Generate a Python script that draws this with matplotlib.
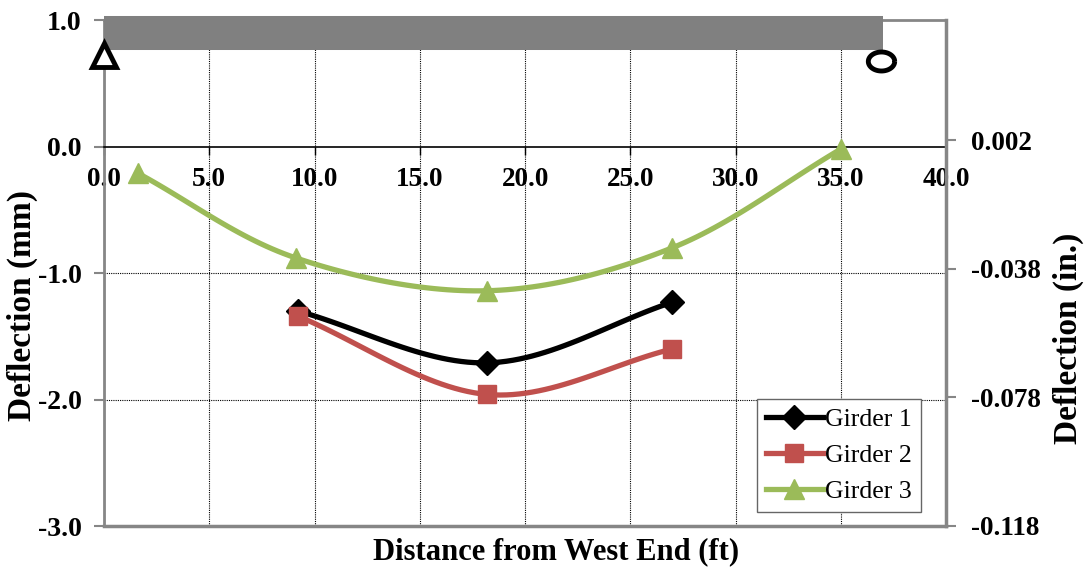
import numpy as np
import matplotlib.pyplot as plt
from matplotlib.path import Path

plt.rcParams['font.family'] = ['Liberation Serif', 'DejaVu Serif']

# girder deflections (mm) vs distance from west end (ft)
g1_x = [9.2, 18.2, 27.0]
g1_y = [-1.30, -1.71, -1.23]
g2_x = [9.2, 18.2, 27.0]
g2_y = [-1.34, -1.96, -1.60]
g3_x = [1.6, 9.1, 18.2, 27.0, 35.0]
g3_y = [-0.21, -0.88, -1.14, -0.80, -0.02]

beam_length = 37.0
x_ticks = [0, 5, 10, 15, 20, 25, 30, 35, 40]
y_ticks = [-3.0, -2.0, -1.0, 0.0, 1.0]
in_ticks = [-0.118, -0.078, -0.038, 0.002]

GRAY = '#868686'


def smooth(x, y, n=30):
    """Catmull-Rom curve through the points (like Excel's smoothed line)."""
    x = np.asarray(x, float)
    y = np.asarray(y, float)
    px = np.concatenate([[2 * x[0] - x[1]], x, [2 * x[-1] - x[-2]]])
    py = np.concatenate([[2 * y[0] - y[1]], y, [2 * y[-1] - y[-2]]])
    xs, ys = [], []
    t = np.linspace(0, 1, n)
    for i in range(1, len(px) - 2):
        for p, out in ((px, xs), (py, ys)):
            p0, p1, p2, p3 = p[i - 1], p[i], p[i + 1], p[i + 2]
            out.extend(0.5 * (2 * p1 + (-p0 + p2) * t
                              + (2 * p0 - 5 * p1 + 4 * p2 - p3) * t ** 2
                              + (-p0 + 3 * p1 - 3 * p2 + p3) * t ** 3))
    return xs, ys


fig = plt.figure(figsize=(10.88, 5.74), dpi=100)
ax = fig.add_axes([0.0956, 0.0836, 0.774, 0.8815])
ax.set_xlim(0, 40)
ax.set_ylim(-3, 1)

series = [
    (g1_x, g1_y, 'black', 'D', 'Girder 1', 12),
    (g2_x, g2_y, '#C0504D', 's', 'Girder 2', 13),
    (g3_x, g3_y, '#9BBB59', '^', 'Girder 3', 15),
]
for xs, ys, c, m, lab, ms in series:
    sx, sy = smooth(xs, ys)
    ax.plot(sx, sy, color=c, lw=3.8, zorder=4)
    ax.plot(xs, ys, ls='none', marker=m, ms=ms, color=c, zorder=5)
    ax.plot([], [], color=c, lw=3.8, marker=m, ms=ms, label=lab)

# beam and supports
ax.plot([0, beam_length], [0.895, 0.895], color='#808080', lw=24.5,
        solid_capstyle='butt', clip_on=False, zorder=3)
ax.plot([0], [0.72], marker='^', ms=17, mfc='white', mec='black', mew=3.5,
        clip_on=False, zorder=6)
th = np.linspace(0, 2 * np.pi, 60)
ellipse = Path(np.column_stack([np.cos(th), 0.72 * np.sin(th)]))
ax.plot([36.9], [0.68], marker=ellipse, ms=19, mfc='white', mec='black',
        mew=3.5, clip_on=False, zorder=6)
ax.axvline(0, ymin=0, ymax=0.93, color='black', lw=1.5, zorder=2)

# grid
for xv in x_ticks[1:-1]:
    ax.axvline(xv, color='black', lw=0.8, ls=(0, (1, 1)), zorder=1)
for yv in [-2.0, -1.0]:
    ax.axhline(yv, color='black', lw=0.8, ls=(0, (1, 1)), zorder=1)
ax.axhline(-3, color=GRAY, lw=2.5, clip_on=False, zorder=2)

# spines
ax.spines['bottom'].set_position(('data', 0))
ax.spines['bottom'].set_color('black')
ax.spines['bottom'].set_linewidth(1.2)
for s in ['left', 'top', 'right']:
    ax.spines[s].set_color(GRAY)
    ax.spines[s].set_linewidth(2)

ax.set_xticks(x_ticks)
ax.set_xticklabels([f'{v:.1f}' for v in x_ticks])
ax.set_yticks(y_ticks)
ax.set_yticklabels([f'{v:.1f}' for v in y_ticks])
ax.tick_params(axis='x', direction='out', length=6, width=1, color='black',
               labelsize=19.5, pad=9)
ax.tick_params(axis='y', direction='out', length=7, width=1.5, color=GRAY,
               labelsize=20, pad=9)
for lab in ax.get_xticklabels() + ax.get_yticklabels():
    lab.set_fontweight('bold')

fig.text(0.021, 0.4686, 'Deflection (mm)', rotation=90, ha='center',
         va='center', fontsize=24, fontweight='bold')
fig.text(0.982, 0.411, 'Deflection (in.)', rotation=90, ha='center',
         va='center', fontsize=24, fontweight='bold')
fig.text(0.5115, 0.038, 'Distance from West End (ft)', ha='center',
         va='center', fontsize=22, fontweight='bold')

ax2 = ax.twinx()
ax2.set_ylim(-3 / 25.4, 1 / 25.4)
ax2.set_yticks(in_ticks)
ax2.set_yticklabels([f'{v:.3f}' for v in in_ticks])
ax2.tick_params(axis='y', direction='out', length=7, width=1.5, color=GRAY,
                labelsize=19.5, pad=11)
for lab in ax2.get_yticklabels():
    lab.set_fontweight('bold')
for s in ['left', 'top', 'bottom']:
    ax2.spines[s].set_visible(False)
ax2.spines['right'].set_color(GRAY)
ax2.spines['right'].set_linewidth(2.5)

leg = ax.legend(loc='lower right', bbox_to_anchor=(0.970, 0.0277),
                borderaxespad=0, fontsize=18.5, handlelength=2.2,
                borderpad=0.35, labelspacing=0.5, handletextpad=0.1,
                fancybox=False, edgecolor='#666666', framealpha=1)
leg.get_frame().set_linewidth(1)
leg.set_zorder(10)

fig.savefig('out.png', dpi=100)
